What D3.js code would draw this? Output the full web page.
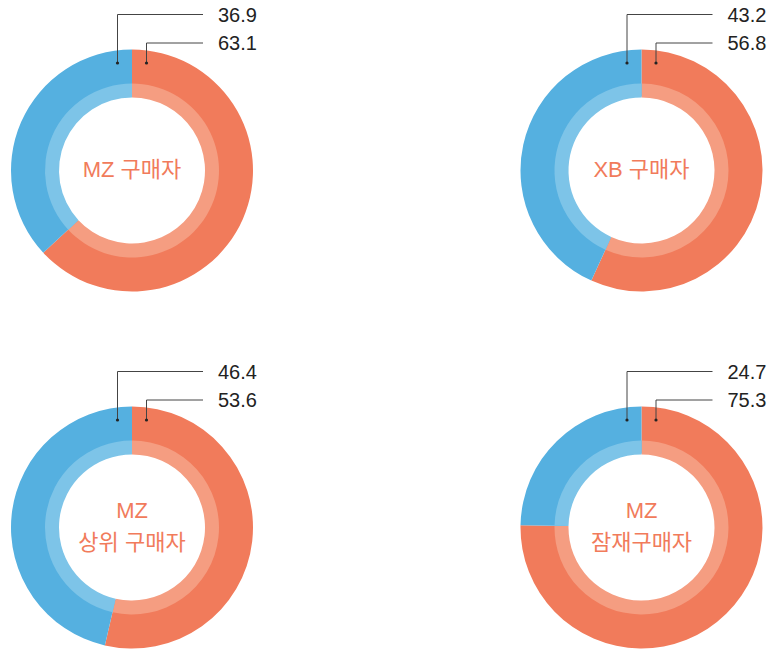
<!DOCTYPE html>
<html>
<head>
<meta charset="utf-8">
<script src="https://cdn.jsdelivr.net/npm/d3@7"></script>
<style>
  body { margin: 0; background: #fff; }
</style>
</head>
<body>
<div id="chart"></div>
<script>
var w = 772;
var h = 649;

// data
var titles = [["MZ 구매자"], ["XB 구매자"], ["MZ", "상위 구매자"], ["MZ", "잠재구매자"]];
var redValues = [63.1, 56.8, 53.6, 75.3];
var blueValues = [36.9, 43.2, 46.4, 24.7];

var centersX = [132, 641.5];
var centersY = [170.5, 527.5];

var outerRadius = 121;
var midRadius = 87;
var innerRadius = 73;

var dark = ["#F17B5B", "#55B0E0"];
var light = ["#F59D81", "#7DC4E8"];

var svg = d3.select("#chart")
            .append("svg")
            .attr("width", w)
            .attr("height", h);

var pie = d3.pie().sort(null);

// dark arc spans the whole band, the light ring is laid over it (no seam)
var outerArc = d3.arc().outerRadius(outerRadius).innerRadius(innerRadius + 1);
var innerArc = d3.arc().outerRadius(midRadius).innerRadius(innerRadius);

var font = "'Liberation Sans', Arial, 'Noto Sans CJK KR', sans-serif";

titles.forEach(function(title, i) {
    var cx = centersX[i % 2];
    var cy = centersY[Math.floor(i / 2)];
    var values = [redValues[i], blueValues[i]];

    var g = svg.append("g")
               .attr("transform", "translate(" + cx + "," + cy + ")");

    var arcs = g.selectAll("g.arc")
                .data(pie(values))
                .enter()
                .append("g")
                .attr("class", "arc");

    arcs.append("path")
        .attr("fill", function(d, j) { return dark[j]; })
        .attr("d", outerArc);

    arcs.append("path")
        .attr("fill", function(d, j) { return light[j]; })
        .attr("d", innerArc);

    // centre title
    var lineGap = 32;
    var startY = -(title.length - 1) * lineGap / 2;
    g.selectAll("text.title")
     .data(title)
     .enter()
     .append("text")
     .attr("class", "title")
     .attr("x", 0)
     .attr("y", function(d, j) { return startY + j * lineGap - 1; })
     .attr("dy", "0.36em")
     .attr("text-anchor", "middle")
     .attr("font-family", font)
     .attr("font-size", 22)
     .attr("fill", "#F17B5B")
     .text(function(d) { return d; });

    // leader lines: blue (top label) then red
    var leaders = [
        { x: -14.5, y: -156, value: blueValues[i] },
        { x: 14.5, y: -127.5, value: redValues[i] }
    ];
    leaders.forEach(function(l) {
        g.append("path")
         .attr("d", "M" + l.x + "," + (-107.5) + "V" + l.y + "H" + 71)
         .attr("fill", "none")
         .attr("stroke", "#444")
         .attr("stroke-width", 1);
        g.append("circle")
         .attr("cx", l.x)
         .attr("cy", -107.5)
         .attr("r", 1.6)
         .attr("fill", "#222");
        g.append("text")
         .attr("x", 86)
         .attr("y", l.y)
         .attr("dy", "0.36em")
         .attr("font-family", font)
         .attr("font-size", 20)
         .attr("fill", "#222")
         .text(l.value.toFixed(1));
    });
});
</script>
</body>
</html>
